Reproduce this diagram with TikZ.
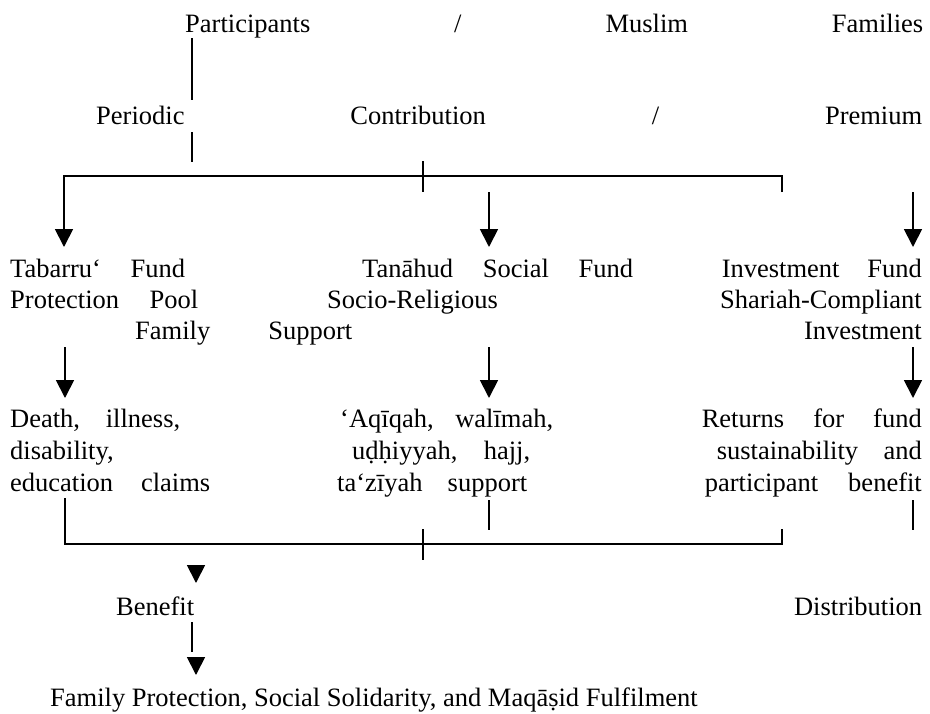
\documentclass[tikz,border=0pt]{standalone}
\usepackage{fontspec}
\setmainfont{Liberation Serif}
\usepackage{tikz}
\usetikzlibrary{arrows.meta, positioning}
\newcommand{\jline}[2]{\makebox[#1][s]{#2}}
\tikzset{
    txt/.style={anchor=base west, inner sep=0pt, font=\fontsize{26.5}{31.5}\selectfont},
    txtr/.style={txt, anchor=base east},
    link/.style={line width=1.8pt},
    arrow/.style={-{Triangle[width=18pt,length=18pt]}, line width=1.8pt}
}

\begin{document}
\begin{tikzpicture}[x=1pt, y=-1pt]
    \useasboundingbox (0,0) rectangle (930,713);

    % Participants and contribution
    \node[txt] (part) at (185,32) {\jline{738pt}{Participants / Muslim Families}};
    \node[txt] (contrib) at (96,124) {\jline{826pt}{Periodic Contribution / Premium}};

    % Three funds
    \node[txt] (tab1) at (10,277) {\jline{175pt}{Tabarru‘ Fund}};
    \node[txt] (tab2) at (10,308) {\jline{188pt}{Protection Pool}};
    \node[txt] (tan1) at (362,277) {\jline{271pt}{Tanāhud Social Fund}};
    \node[txt] (tan2) at (327,308) {Socio-Religious};
    \node[txt] (tan3) at (135,339) {\jline{217pt}{Family Support}};
    \node[txtr] (inv1) at (922,277) {\jline{200pt}{Investment Fund}};
    \node[txtr] (inv2) at (922,308) {Shariah-Compliant};
    \node[txtr] (inv3) at (922,339) {Investment};

    % Uses of each fund
    \node[txt] (clm1) at (10,427) {\jline{170pt}{Death, illness,}};
    \node[txt] (clm2) at (10,459) {disability,};
    \node[txt] (clm3) at (10,491) {\jline{200pt}{education claims}};
    \node[txt] (soc1) at (340,427) {\jline{213pt}{‘Aqīqah, walīmah,}};
    \node[txt] (soc2) at (352,459) {\jline{178pt}{uḍḥiyyah, hajj,}};
    \node[txt] (soc3) at (337,491) {\jline{190pt}{ta‘zīyah support}};
    \node[txtr] (ret1) at (922,427) {\jline{220pt}{Returns for fund}};
    \node[txtr] (ret2) at (922,459) {\jline{205pt}{sustainability and}};
    \node[txtr] (ret3) at (922,491) {\jline{217pt}{participant benefit}};

    % Distribution and outcome
    \node[txt] (bene) at (116,615) {\jline{806pt}{Benefit Distribution}};
    \node[txt] (goal) at (50,706) {Family Protection, Social Solidarity, and Maqāṣid Fulfilment};

    % Junction points
    \coordinate (t0) at (192,38);
    \coordinate (t1) at (192,100);
    \coordinate (t2) at (192,132);
    \coordinate (t3) at (192,162);
    \coordinate (bl) at (64,176);
    \coordinate (br) at (782,176);
    \coordinate (brd) at (782,192);
    \coordinate (k0) at (423,161);
    \coordinate (k1) at (423,192);
    \coordinate (a1) at (64,247);
    \coordinate (m0) at (489,192);
    \coordinate (a2) at (489,247);
    \coordinate (r0) at (913,192);
    \coordinate (a3) at (913,247);
    \coordinate (u1) at (65,347);
    \coordinate (v1) at (65,398);
    \coordinate (u2) at (489,347);
    \coordinate (v2) at (489,398);
    \coordinate (u3) at (913,347);
    \coordinate (v3) at (913,398);
    \coordinate (e1) at (65,498);
    \coordinate (cl) at (65,544);
    \coordinate (cr) at (782,544);
    \coordinate (cru) at (782,529);
    \coordinate (q0) at (423,529);
    \coordinate (q1) at (423,560);
    \coordinate (e2) at (489,500);
    \coordinate (f2) at (489,530);
    \coordinate (e3) at (913,500);
    \coordinate (f3) at (913,530);
    \coordinate (d0) at (196,565);
    \coordinate (d1) at (196,583);
    \coordinate (g0) at (192,622);
    \coordinate (g1) at (192,652);
    \coordinate (h0) at (196,657);
    \coordinate (h1) at (196,675);

    % Connections
    \draw[link] (t0) -- (t1);
    \draw[link] (t2) -- (t3);
    \draw[link] (k0) -- (k1);
    \draw[arrow] (brd) -- (br) -- (bl) -- (a1);
    \draw[arrow] (m0) -- (a2);
    \draw[arrow] (r0) -- (a3);
    \draw[arrow] (u1) -- (v1);
    \draw[arrow] (u2) -- (v2);
    \draw[arrow] (u3) -- (v3);
    \draw[link] (e1) -- (cl) -- (cr) -- (cru);
    \draw[link] (q0) -- (q1);
    \draw[link] (e2) -- (f2);
    \draw[link] (e3) -- (f3);
    \draw[arrow] (d0) -- (d1);
    \draw[link] (g0) -- (g1);
    \draw[arrow] (h0) -- (h1);
\end{tikzpicture}
\end{document}
